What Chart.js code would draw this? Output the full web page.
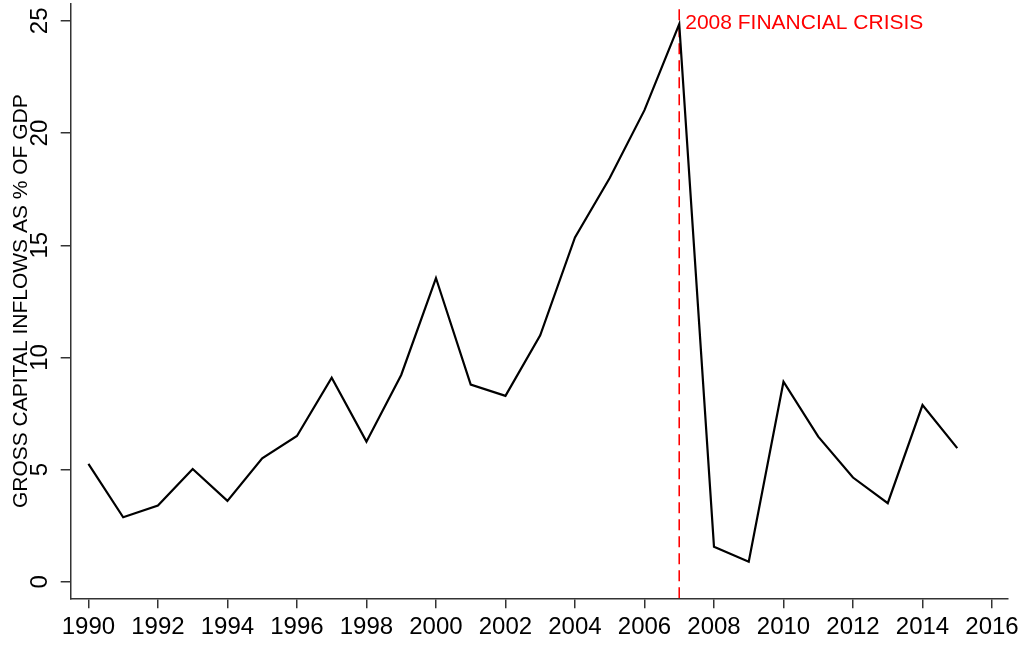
<!DOCTYPE html>
<html>
<head>
<meta charset="utf-8">
<script src="https://cdn.jsdelivr.net/npm/chart.js@4"></script>
<style>
  html, body { margin: 0; padding: 0; background: #fff; }
  #wrap { width: 1024px; height: 645px; position: relative; }
</style>
</head>
<body>
<div id="wrap"><canvas id="inflowChart"></canvas></div>
<script>
// Gross capital inflows, % of GDP
const years = [1990, 1991, 1992, 1993, 1994, 1995, 1996, 1997, 1998, 1999,
               2000, 2001, 2002, 2003, 2004, 2005, 2006, 2007, 2008, 2009,
               2010, 2011, 2012, 2013, 2014, 2015];
const inflows = [5.26, 2.88, 3.40, 5.03, 3.61, 5.51, 6.50, 9.10, 6.25, 9.22,
                 13.54, 8.79, 8.29, 10.99, 15.35, 18.0, 21.02, 24.85, 1.57, 0.90,
                 8.92, 6.47, 4.65, 3.51, 7.88, 5.96];
const xTicks = [1990, 1992, 1994, 1996, 1998, 2000, 2002, 2004, 2006, 2008, 2010, 2012, 2014, 2016];
const yTicks = [0, 5, 10, 15, 20, 25];
const crisisYear = 2007;
const crisisLabel = '2008 FINANCIAL CRISIS';

const FONT = '"Liberation Sans", Arial, Helvetica, sans-serif';
const axisColor = '#333';

const crisisText = {
    id: 'crisisText',
    afterDatasetsDraw(chart) {
        const ctx = chart.ctx;
        const x = chart.scales.x.getPixelForValue(crisisYear);
        ctx.save();
        ctx.fillStyle = '#ff0000';
        ctx.font = '21px ' + FONT;
        ctx.textAlign = 'left';
        ctx.textBaseline = 'alphabetic';
        ctx.fillText(crisisLabel, x + 6, 29);
        ctx.restore();
    }
};

const ctx = document.getElementById('inflowChart').getContext('2d');
const inflowChart = new Chart(ctx, {
    type: 'line',
    data: {
        datasets: [{
            data: years.map((y, i) => ({ x: y, y: inflows[i] })),
            borderColor: '#000',
            borderWidth: 2.2,
            pointRadius: 0,
            tension: 0,
            fill: false
        }, {
            // vertical marker for the crisis
            data: [{ x: crisisYear, y: -0.73 }, { x: crisisYear, y: 25.63 }],
            borderColor: '#ff0000',
            borderWidth: 1.6,
            borderDash: [11, 6],
            pointRadius: 0,
            fill: false
        }]
    },
    options: {
        responsive: true,
        maintainAspectRatio: false,
        animation: false,
        layout: { padding: { top: 4, right: 16, left: 0, bottom: 0 } },
        scales: {
            x: {
                type: 'linear',
                min: 1989.49,
                max: 2016.46,
                afterBuildTicks: (scale) => { scale.ticks = xTicks.map(v => ({ value: v })); },
                afterFit: (scale) => { scale.height = 46.7; },
                grid: { drawOnChartArea: false, drawTicks: true, tickLength: 10, color: axisColor, lineWidth: 1.5 },
                border: { display: true, color: axisColor, width: 1.5 },
                ticks: {
                    color: '#000',
                    font: { family: FONT, size: 24 },
                    padding: 5,
                    maxRotation: 0,
                    autoSkip: false,
                    callback: (v) => String(v)
                }
            },
            y: {
                min: -0.73,
                max: 25.75,
                afterBuildTicks: (scale) => { scale.ticks = yTicks.map(v => ({ value: v })); },
                afterFit: (scale) => {
                    scale.width = 70.7;
                    scale.paddingTop = 0;
                    scale.paddingBottom = 0;
                },
                grid: { drawOnChartArea: false, drawTicks: true, tickLength: 10, color: axisColor, lineWidth: 1.5 },
                border: { display: true, color: axisColor, width: 1.5 },
                ticks: {
                    color: '#000',
                    font: { family: FONT, size: 24 },
                    minRotation: 90,
                    maxRotation: 90,
                    crossAlign: 'center',
                    padding: 7,
                    autoSkip: false
                },
                title: {
                    display: true,
                    text: 'GROSS CAPITAL INFLOWS AS % OF GDP',
                    color: '#000',
                    font: { family: FONT, size: 21 },
                    padding: { top: 9, bottom: 0 }
                }
            }
        },
        plugins: {
            legend: { display: false },
            tooltip: { enabled: false }
        }
    },
    plugins: [crisisText]
});
</script>
</body>
</html>
